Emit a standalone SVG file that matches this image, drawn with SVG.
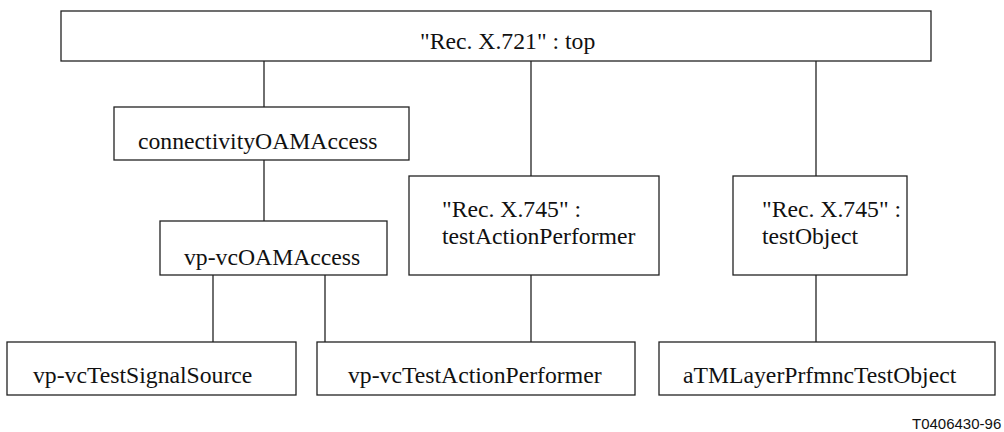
<svg xmlns="http://www.w3.org/2000/svg" width="1004" height="432" viewBox="0 0 1004 432">
<style>
.box{fill:#fff;stroke:#222;stroke-width:1.3}
.lbl{font-family:"Liberation Serif","Times New Roman",serif;font-size:23.7px;fill:#111}
.conn line{stroke:#222;stroke-width:1.3}
.ref{font-family:"Liberation Sans",Arial,sans-serif;font-size:15px;fill:#111}
</style>
<rect width="1004" height="432" fill="#fff"/>
<g class="conn" id="connectors">
<line x1="264" y1="61" x2="264" y2="107"/>
<line x1="264" y1="160" x2="264" y2="221"/>
<line x1="213" y1="275" x2="213" y2="342"/>
<line x1="325" y1="275" x2="325" y2="342"/>
<line x1="531" y1="61" x2="531" y2="176"/>
<line x1="531" y1="275" x2="531" y2="342"/>
<line x1="816" y1="61" x2="816" y2="176"/>
<line x1="816" y1="275" x2="816" y2="342"/>
</g>
<g id="top">
<rect class="box" x="61" y="11" width="870" height="50"/>
<text class="lbl" x="420" y="49">"Rec. X.721" : top</text>
</g>
<g id="connectivityOAMAccess">
<rect class="box" x="114" y="107" width="295" height="53"/>
<text class="lbl" x="138" y="149">connectivityOAMAccess</text>
</g>
<g id="vp-vcOAMAccess">
<rect class="box" x="160" y="221" width="227" height="54"/>
<text class="lbl" x="184" y="265">vp-vcOAMAccess</text>
</g>
<g id="testActionPerformer">
<rect class="box" x="409" y="176" width="250" height="99"/>
<text class="lbl" x="442" y="217">"Rec. X.745" :</text>
<text class="lbl" x="442" y="244">testActionPerformer</text>
</g>
<g id="testObject">
<rect class="box" x="733" y="176" width="174" height="99"/>
<text class="lbl" x="762" y="217">"Rec. X.745" :</text>
<text class="lbl" x="762" y="244">testObject</text>
</g>
<g id="vp-vcTestSignalSource">
<rect class="box" x="7" y="342" width="289" height="53"/>
<text class="lbl" x="33" y="383">vp-vcTestSignalSource</text>
</g>
<g id="vp-vcTestActionPerformer">
<rect class="box" x="317" y="342" width="318" height="53"/>
<text class="lbl" x="348" y="383">vp-vcTestActionPerformer</text>
</g>
<g id="aTMLayerPrfmncTestObject">
<rect class="box" x="659" y="342" width="336" height="53"/>
<text class="lbl" x="683" y="383">aTMLayerPrfmncTestObject</text>
</g>
<text class="ref" x="912" y="429">T0406430-96</text>
</svg>
